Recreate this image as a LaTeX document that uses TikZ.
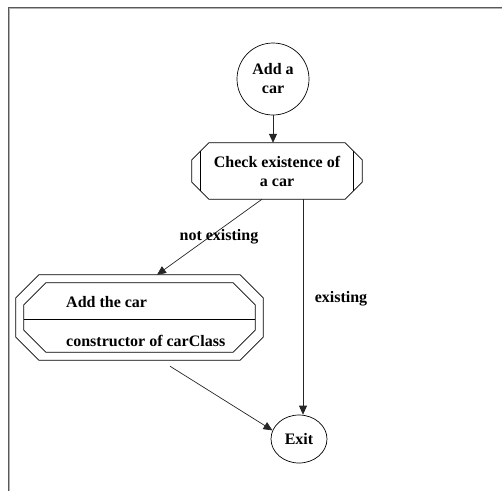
\documentclass[tikz,border=0pt]{standalone}
\usepackage{fontspec}
\setmainfont{Liberation Serif}
\usetikzlibrary{arrows.meta,calc,shapes.geometric}
\begin{document}
\begin{tikzpicture}[x=1pt,y=-1pt,
  every node/.style={font=\bfseries\fontsize{16}{19}\selectfont},
  outline/.style={draw=black, line width=0.7pt},
  flow/.style={draw=black!85, line width=0.7pt, -{Triangle[length=9pt,width=8pt]}},
  frameline/.style={line width=1.3pt, draw=black!65},
  framelight/.style={line width=0.8pt, draw=black!30},
  state/.style={ellipse, draw=black, line width=0.7pt, inner sep=0pt, align=center},
  block/.style={rectangle, draw=none, inner sep=0pt, align=center},
  lbl/.style={inner sep=1pt}]
\useasboundingbox (0,0) rectangle (502,491);

% window border (top and left edges)
\draw[frameline] (8.5,491) -- (8.5,7.5) -- (502,7.5);
\draw[framelight] (9.8,491) -- (9.8,8.8) -- (502,8.8);

% start state
\node[state, minimum width=72, minimum height=72] (add) at (273,79) {Add a\\car};

% decision block with side bars
\node[block, minimum width=170, minimum height=56] (check) at (277,171) {Check existence of\\a car};
\draw[outline]
  ($(check.north west)+(17,0)$) -- ($(check.north east)+(-17,0)$)
  -- ($(check.north east)+(0,17)$) -- ($(check.south east)+(0,-17)$)
  -- ($(check.south east)+(-17,0)$) -- ($(check.south west)+(17,0)$)
  -- ($(check.south west)+(0,-17)$) -- ($(check.north west)+(0,17)$) -- cycle;
\draw[outline] ($(check.north west)+(9,8)$) -- ($(check.south west)+(9,-8)$);
\draw[outline] ($(check.north east)+(-9,8)$) -- ($(check.south east)+(-9,-8)$);

% action block: double octagon with two compartments
\node[block, minimum width=247, minimum height=85] (addcar) at (139.5,317.5) {};
\draw[outline]
  ($(addcar.north west)+(23,0)$) -- ($(addcar.north east)+(-23,0)$)
  -- ($(addcar.north east)+(0,23)$) -- ($(addcar.south east)+(0,-23)$)
  -- ($(addcar.south east)+(-23,0)$) -- ($(addcar.south west)+(23,0)$)
  -- ($(addcar.south west)+(0,-23)$) -- ($(addcar.north west)+(0,23)$) -- cycle;
\draw[outline]
  ($(addcar.north west)+(30,8)$) -- ($(addcar.north east)+(-30,8)$)
  -- ($(addcar.north east)+(-8,30)$) -- ($(addcar.south east)+(-8,-30)$)
  -- ($(addcar.south east)+(-30,-8)$) -- ($(addcar.south west)+(30,-8)$)
  -- ($(addcar.south west)+(8,-30)$) -- ($(addcar.north west)+(8,30)$) -- cycle;
\draw[outline] ($(addcar.west)+(8,1.5)$) -- ($(addcar.east)+(-8,1.5)$);
\node[anchor=base west, inner sep=0pt] (addname) at (66,307) {Add the car};
\node[anchor=base west, inner sep=0pt] (addop) at (66,346) {constructor of carClass};

% end state
\node[state, minimum width=56, minimum height=48] (exit) at (299,439) {Exit};

% connectors
\draw[flow] (add.south) -- (add.south |- check.north);
\draw[flow] ($(check.south)+(-15,0)$) -- ($(addcar.north)+(17.5,0)$);
\draw[flow] ($(check.south)+(26,0)$) coordinate (ex0) -- (ex0 |- exit.north);
\draw[flow] ($(addcar.south)+(30.5,6)$) -- (exit.162);

% guard labels
\node[lbl] (notex) at (219,237) {not existing};
\node[lbl] (ex) at (341,299) {existing};
\end{tikzpicture}
\end{document}
